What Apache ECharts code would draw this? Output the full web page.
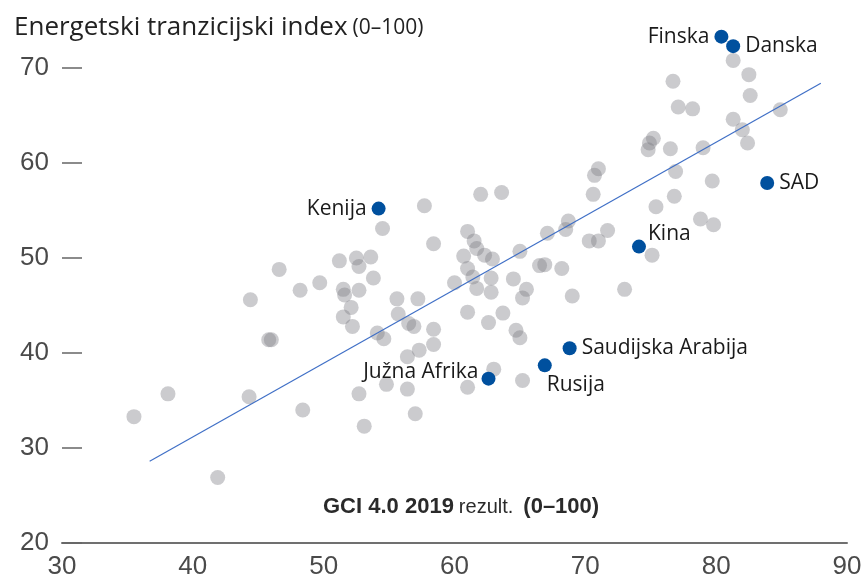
<!DOCTYPE html>
<html>
<head>
<meta charset="utf-8">
<script src="https://cdn.jsdelivr.net/npm/echarts@6/dist/echarts.min.js"></script>
<style>
  html, body { margin: 0; padding: 0; background: #fff; }
  #chart { width: 865px; height: 581px; }
</style>
</head>
<body>
<div id="chart"></div>
<script>
// GCI 4.0 2019 rezultat (x) i energetski tranzicijski index (y)
const grayX = [35.5, 38.1, 41.9, 44.3, 44.4, 45.8, 46.0, 46.6, 48.2, 48.4, 49.7, 51.2, 52.5, 52.7, 53.6, 53.8, 51.5, 51.6, 52.7, 52.1,
  51.5, 52.2, 52.7, 53.1, 54.1, 54.6, 54.8, 54.5, 55.6, 55.7, 56.4, 56.4, 56.5, 56.9, 57.0, 57.2, 57.3, 57.7, 58.4, 58.4,
  58.4, 60.0, 60.7, 61.0, 61.0, 61.0, 61.0, 61.4, 61.5, 61.7, 61.7, 62.0, 62.3, 62.6, 62.8, 62.8, 62.9, 63.0, 63.6, 63.7,
  64.5, 64.7, 65.0, 65.0, 65.2, 65.2, 65.5, 66.5, 66.9, 67.1, 68.2, 68.5, 68.7, 69.0, 70.3, 70.6, 70.7, 71.0, 71.0, 71.7,
  73.0, 74.8, 74.9, 75.2, 75.1, 75.4, 76.5, 76.7, 76.8, 76.9, 77.1, 78.2, 78.8, 79.0, 79.7, 79.8, 81.3, 81.3, 82.0, 82.4,
  82.5, 82.6, 84.9]
const grayY = [33.3, 35.7, 26.9, 35.4, 45.6, 41.4, 41.4, 48.8, 46.6, 34.0, 47.4, 49.7, 50.0, 49.1, 50.1, 47.9, 46.7, 46.1, 46.6, 44.8,
  43.8, 42.8, 35.7, 32.3, 42.1, 41.5, 36.7, 53.1, 45.7, 44.1, 39.6, 36.2, 43.1, 42.8, 33.6, 45.7, 40.3, 55.5, 51.5, 42.5,
  40.9, 47.4, 50.2, 52.8, 44.3, 36.4, 48.9, 48.0, 51.8, 51.0, 46.8, 56.7, 50.3, 43.2, 47.9, 46.4, 49.9, 38.3, 56.9, 44.2,
  47.8, 42.4, 50.7, 41.6, 45.8, 37.1, 46.7, 49.2, 49.3, 52.6, 48.9, 53.0, 53.9, 46.0, 51.8, 56.7, 58.7, 59.4, 51.8, 52.9,
  46.7, 61.4, 62.1, 62.6, 50.3, 55.4, 61.5, 68.6, 56.5, 59.1, 65.9, 65.7, 54.1, 61.6, 58.1, 53.5, 70.8, 64.6, 63.5, 62.1,
  69.3, 67.1, 65.6]

// istaknute zemlje
const countries = ['Finska', 'Danska', 'SAD', 'Kenija', 'Kina', 'Saudijska Arabija', 'Rusija', 'Južna Afrika']
const countryX = [80.4, 81.3, 83.9, 54.2, 74.1, 68.8, 66.9, 62.6]
const countryY = [73.3, 72.3, 57.9, 55.2, 51.2, 40.5, 38.7, 37.3]

// linija trenda
const trendX = [36.7, 88.0]
const trendY = [28.6, 68.4]

const xTicks = [30, 40, 50, 60, 70, 80, 90]
const yTicks = [20, 30, 40, 50, 60, 70]

// gdje ide natpis uz tocku
const labelPos = {
  'Finska': { position: 'left' },
  'Danska': { position: 'right' },
  'SAD': { position: 'right' },
  'Kenija': { position: 'left' },
  'Kina': { position: 'right', offset: [-3, -13] },
  'Saudijska Arabija': { position: 'right' },
  'Rusija': { position: 'right', offset: [-10, 20] },
  'Južna Afrika': { position: 'left', offset: [2, -7] }
}

const grayData = grayX.map((x, i) => [x, grayY[i]])
const countryData = countries.map((name, i) => ({
  name: name,
  value: [countryX[i], countryY[i]],
  label: labelPos[name]
}))
const trendData = trendX.map((x, i) => [x, trendY[i]])

const myEcharts = echarts.init(document.getElementById('chart'))
myEcharts.setOption({
  animation: false,
  title: [
    {
      left: 9,
      top: 10,
      text: '{a|Energetski tranzicijski index} {b|(0–100)}',
      textStyle: {
        rich: {
          a: { fontFamily: 'Open Sans', fontWeight: 'normal', fontSize: 26, color: '#222' },
          b: { fontFamily: 'Open Sans', fontWeight: 'normal', fontSize: 21, color: '#222' }
        }
      }
    },
    {
      left: 318,
      top: 491,
      text: '{a|GCI 4.0 2019} {b|rezult.}  {a|(0–100)}',
      textStyle: {
        rich: {
          a: { fontFamily: 'Liberation Sans', fontWeight: 'bold', fontSize: 22, color: '#2a2a2a' },
          b: { fontFamily: 'Liberation Sans', fontWeight: 'normal', fontSize: 20, color: '#2a2a2a' }
        }
      }
    }
  ],
  grid: {
    left: 62,
    right: 18,
    top: 20.5,
    bottom: 38
  },
  xAxis: {
    type: 'value',
    min: 30,
    max: 90,
    interval: 10,
    splitLine: { show: false },
    axisLine: { show: true, lineStyle: { color: '#707070', width: 2 } },
    axisTick: { show: false },
    axisLabel: {
      customValues: xTicks,
      margin: 11,
      fontFamily: 'Liberation Sans',
      fontSize: 26,
      color: '#4a4a4a'
    }
  },
  yAxis: {
    type: 'value',
    min: 20,
    max: 75,
    splitLine: { show: false },
    axisLine: { show: false },
    axisTick: {
      show: true,
      inside: true,
      length: 20,
      customValues: yTicks,
      lineStyle: { color: '#666', width: 1.5 }
    },
    axisLabel: {
      customValues: yTicks,
      margin: 13,
      fontFamily: 'Liberation Sans',
      fontSize: 26,
      color: '#4a4a4a'
    }
  },
  series: [
    {
      type: 'scatter',
      data: grayData,
      symbolSize: 15,
      itemStyle: { color: 'rgb(124,126,132)', opacity: 0.4 },
      z: 2
    },
    {
      type: 'line',
      data: trendData,
      symbol: 'none',
      lineStyle: { color: '#3f6fc6', width: 1.2 },
      z: 3
    },
    {
      type: 'scatter',
      data: countryData,
      symbolSize: 14,
      itemStyle: { color: '#00509e', opacity: 1 },
      label: {
        show: true,
        formatter: '{b}',
        distance: 5,
        fontFamily: 'Open Sans',
        fontSize: 21,
        color: '#1a1a1a'
      },
      z: 4
    }
  ]
})
</script>
</body>
</html>
